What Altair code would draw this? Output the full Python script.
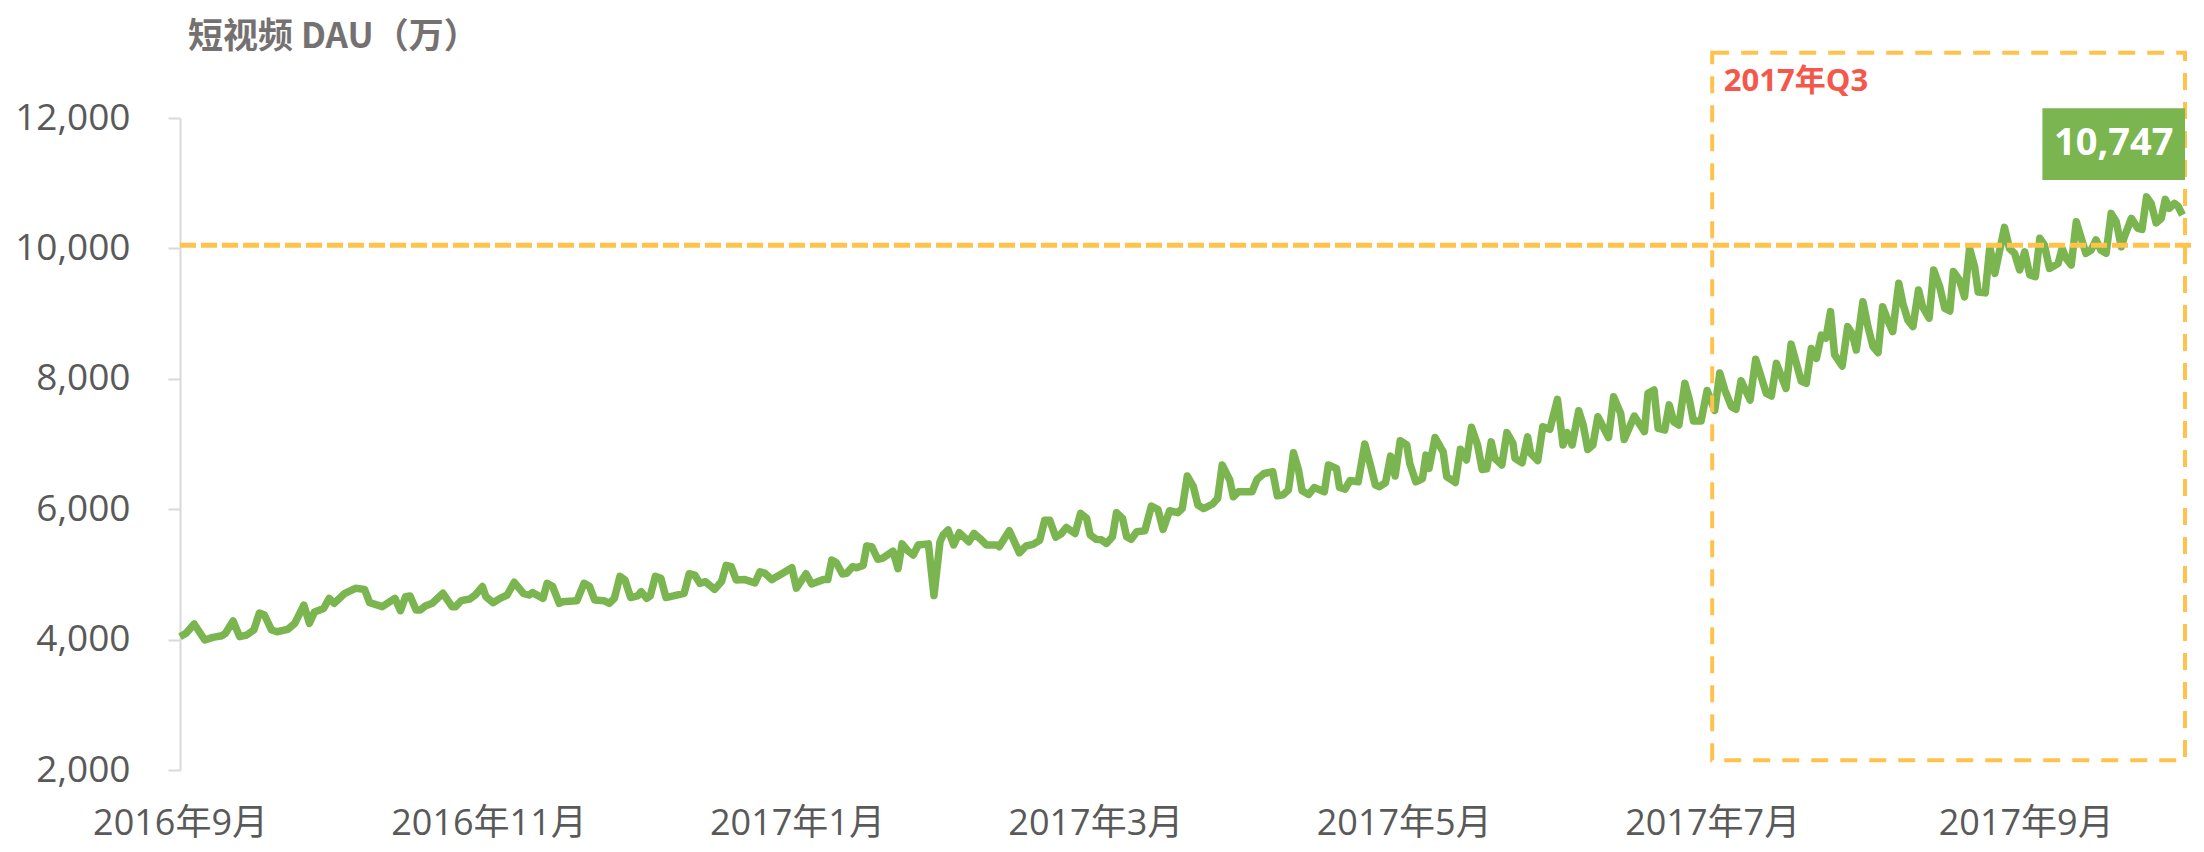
import altair as alt
import pandas as pd

START = "2016-09-01"

# x position of each reading, in days after START
day_offset = [
    0.0, 1.2, 2.8, 4.9, 6.5, 8.3, 9.0, 10.5, 11.8, 13.2, 14.6, 15.7, 16.7, 18.1, 19.2,
    21.3, 22.7, 24.5, 25.6, 26.6, 28.4, 29.5, 30.5, 32.6, 34.7, 36.5, 37.5, 40.0, 42.5,
    43.6, 44.6, 45.5, 46.7, 47.5, 48.5, 49.9, 52.0, 53.8, 54.5, 55.6, 57.3, 58.4, 59.8,
    60.5, 61.9, 63.3, 64.7, 66.1, 67.9, 69.0, 69.7, 71.8, 72.6, 73.7, 75.0, 75.7, 78.5,
    79.9, 81.0, 82.0, 83.8, 84.9, 85.9, 87.0, 88.0, 89.1, 90.5, 91.2, 92.3, 93.0, 94.0,
    95.1, 96.1, 97.6, 99.7, 100.7, 101.8, 102.8, 103.9, 105.7, 107.1, 108.0,
    109.0, 110.0, 111.7, 113.7, 114.7, 115.6, 117.0, 118.6, 121.0, 121.9, 123.8, 124.9,
    127.2, 128.1, 128.9, 129.8, 131.0, 131.8, 133.0, 133.8, 135.1, 135.8, 136.8, 138.0,
    138.9, 141.0, 142.0, 142.8, 144.0, 145.0, 146.0, 148.0, 149.1, 150.3, 150.9, 151.9,
    153.0, 154.1, 156.0, 157.0, 158.2, 159.5, 161.5, 162.0, 164.0, 166.0, 167.3, 168.7,
    170.0, 171.0, 172.0, 173.2, 174.3, 175.3, 177.0, 178.1, 179.3, 180.0, 181.2, 182.2,
    183.2, 184.4, 185.2, 186.4, 187.2, 188.1, 189.2, 190.8, 192.1, 193.4, 194.4, 195.7,
    197.3, 198.2, 199.2,
    200.4, 201.3, 202.4, 204.2, 205.2, 206.1, 207.6, 208.3, 209.3, 212.0, 213.0, 214.4,
    216.1, 217.0, 218.1, 219.2, 220.2, 221.2, 221.9, 223.2, 224.3, 226.3, 227.1, 228.7,
    229.3, 230.4, 231.4, 233.0, 234.3, 235.5, 236.4, 237.2, 238.4, 239.4, 240.3, 241.3,
    242.6, 243.2, 244.4, 245.7, 246.4, 247.0, 248.2, 249.8, 250.5, 252.2, 253.2, 254.4,
    255.4, 256.6, 257.5, 258.4, 259.3, 260.0, 261.4, 262.4, 263.6, 264.0, 265.4, 266.5,
    267.1, 268.5, 269.5, 270.9, 272.4, 273.5, 274.3, 275.3, 276.6, 277.5, 278.4, 279.4,
    280.4, 282.5, 283.5, 284.9, 285.6, 287.6, 289.6, 290.3, 291.5, 292.3, 293.6, 294.5,
    295.4, 296.4, 297.6, 298.5, 299.3, 300.8, 302.0, 303.5, 304.5,
    305.5, 306.8, 307.7, 308.7, 310.5, 311.6, 313.7, 314.7, 315.7, 317.6, 318.6, 320.6,
    321.6, 322.6, 323.6, 324.6, 325.5, 326.4, 327.2, 328.7, 329.8, 330.7, 331.5, 332.8,
    333.8, 334.8, 335.8, 336.7, 337.7, 338.7, 339.9, 340.7, 341.7, 342.7, 343.8, 344.6,
    345.9, 346.8, 348.0, 349.0, 350.0, 350.7, 351.9, 352.9, 353.9, 354.9, 355.6, 357.0,
    357.9, 358.9, 360.8, 361.8, 362.8, 363.8, 364.8, 365.8, 366.9, 367.8, 368.7, 369.7,
    371.4, 372.2, 373.0, 374.0, 375.0, 375.9, 376.9, 377.9, 378.9, 379.9, 380.9, 381.9,
    382.9, 383.9, 384.5, 385.9, 387.2, 388.0, 388.9, 389.8, 390.8, 391.8, 392.6, 393.4,
    394.4, 395.1, 396.0,
]

# 短视频 DAU (万)
dau = [
    4045, 4097, 4240, 3994, 4035, 4060, 4097, 4285, 4045, 4070, 4147, 4408, 4377, 4147, 4120,
    4157, 4250, 4530, 4250, 4425, 4477, 4633, 4556, 4710, 4787, 4770, 4566, 4505, 4633,
    4443, 4658, 4670, 4454, 4454, 4515, 4556, 4710, 4505, 4505, 4597, 4622, 4684, 4813,
    4659, 4566, 4633, 4684, 4879, 4710, 4684, 4720, 4633, 4863, 4813, 4556, 4582, 4597,
    4863, 4813, 4607, 4597, 4556, 4633, 4969, 4914, 4646, 4670, 4736, 4633, 4670, 4969,
    4940, 4646, 4670, 4710, 5010, 4990, 4863, 4888, 4770, 4890, 5138,
    5118, 4914, 4920, 4870, 5040, 5020, 4920, 4990, 5102, 4790, 5010, 4853,
    4920, 4920, 5220, 5180, 5006, 5016, 5118, 5102, 5138, 5436, 5425, 5232,
    5246, 5357, 5087, 5468, 5357, 5298, 5451, 5468, 4676, 5501, 5604, 5681,
    5451, 5640, 5500, 5630, 5550, 5451, 5451, 5425, 5670, 5330, 5436, 5460,
    5522, 5830, 5830, 5570, 5627, 5720, 5627, 5936, 5858, 5604, 5537, 5530,
    5475, 5578, 5946, 5858, 5578, 5537, 5655, 5670, 6049, 5996, 5690, 5976,
    5946, 6010, 6509,
    6345, 6064, 6010, 6080, 6164, 6678, 6448, 6190, 6267, 6267, 6458, 6548,
    6575, 6205, 6220, 6294, 6865, 6600, 6282, 6226, 6333, 6267, 6678, 6625,
    6333, 6308, 6440, 6420, 7000, 6650, 6370, 6345, 6407, 6815, 6509, 7050,
    6985, 6700, 6420, 6470, 6830, 6625, 7100, 6880, 6500, 6410, 6920, 6755,
    7256, 6985, 6610, 6620, 7033, 6780, 6678, 7174, 7010, 6780, 6713, 7110,
    6855, 6745, 7266, 7226, 7685, 6985, 7174, 6985, 7510, 7290, 6915, 6985,
    7419, 7100, 7726, 7470, 7070, 7429, 7190, 7777, 7828, 7240, 7215, 7600,
    7340, 7290, 7930, 7675, 7354, 7354, 7820, 7515, 8088,
    7828, 7572, 7532, 7971, 7675, 8300, 7777, 7736, 8237, 7853, 8532, 7965,
    7930, 8466, 8313, 8670, 8622, 9030, 8370, 8196, 8800, 8690, 8442, 9183,
    8800, 8494, 8400, 9106, 8900, 8723, 9465, 9158, 8900, 8800, 9363, 9106,
    8930, 9670, 9410, 9080, 9040, 9645, 9514, 9255, 9998, 9720, 9330, 9318,
    10024, 9617, 10322, 9998, 9924, 9670, 9948, 9593, 9566, 10155, 10050, 9693,
    9770, 9998, 9845, 9745, 10410, 10177, 9924, 9970, 10130, 9970, 9924, 10537,
    10410, 10024, 10177, 10460, 10306, 10290, 10790, 10690, 10390, 10460, 10753, 10614,
    10690, 10651, 10512,
]

y_ticks = [2000, 4000, 6000, 8000, 10000, 12000]
x_tick_dates = ["2016-09-01", "2016-11-01", "2017-01-01", "2017-03-01",
                "2017-05-01", "2017-07-01", "2017-09-01"]

title_text = "短视频 DAU（万）"
threshold = 10050
q3_label = "2017年Q3"
peak_label = "10,747"

LINE_GREEN = "#7AB54F"
ORANGE = "#FFC34D"
RED = "#F5574A"
GRAY = "#595959"
FONT = "Open Sans, 'Noto Sans CJK SC', sans-serif"
CJK_FONT = "'Noto Sans CJK SC', sans-serif"

start = pd.Timestamp(START)
df = pd.DataFrame({
    "date": start + pd.to_timedelta(day_offset, unit="D"),
    "dau": dau,
})

x_min = start
x_max = start + pd.Timedelta(days=396.5)
x_scale = alt.Scale(domain=[x_min.isoformat(), x_max.isoformat()])
y_scale = alt.Scale(domain=[2000, 12000], nice=False, zero=False)

tick_dt = [alt.DateTime(year=int(d[:4]), month=int(d[5:7]), date=int(d[8:10]))
           for d in x_tick_dates]

x_axis = alt.Axis(
    title=None, values=tick_dt, grid=False, domain=False, ticks=False,
    labelExpr="year(datum.value) + '年' + (month(datum.value) + 1) + '月'",
    labelFontSize=36, labelColor=GRAY, labelFont=FONT, labelPadding=36,
    labelOverlap=False, labelFlush=False, labelLimit=0,
)
y_axis = alt.Axis(
    title=None, values=y_ticks, grid=False,
    labelExpr="format(datum.value, ',')",
    domainColor="#D9D9D9", domainWidth=2, tickColor="#D9D9D9", tickWidth=2,
    tickSize=12, labelFontSize=37, labelColor=GRAY, labelFont=FONT,
    labelPadding=38,
)


def ax(field):
    return alt.X(field, scale=x_scale, axis=x_axis)


def ay(field):
    return alt.Y(field, scale=y_scale, axis=y_axis)


line = alt.Chart(df).mark_line(color=LINE_GREEN, strokeWidth=7.5, strokeJoin="round").encode(
    x=ax("date:T"), y=ay("dau:Q")
)

# threshold dashed line
rule_df = pd.DataFrame({
    "x": [start], "x2": [start + pd.Timedelta(days=400.5)], "y": [threshold],
})
rule = alt.Chart(rule_df).mark_rule(
    color=ORANGE, strokeWidth=5, strokeDash=[16, 5]
).encode(x=ax("x:T"), x2="x2:T", y=ay("y:Q"))

# Q3 dashed box
box_df = pd.DataFrame({
    "x": [pd.Timestamp("2017-07-01")], "x2": [x_max], "y": [2150], "y2": [13000],
})
box = alt.Chart(box_df).mark_rect(
    fillOpacity=0, stroke=ORANGE, strokeWidth=4, strokeDash=[17, 12]
).encode(x=ax("x:T"), x2="x2:T", y=ay("y:Q"), y2="y2:Q")

q3_df = pd.DataFrame({
    "x": [start + pd.Timedelta(days=305.3)], "y": [12550], "t": [q3_label],
})
q3_text = alt.Chart(q3_df).mark_text(
    align="left", baseline="middle", color=RED, fontSize=31, fontWeight="bold",
    font=FONT,
).encode(x=ax("x:T"), y=ay("y:Q"), text="t:N")

peak_box_df = pd.DataFrame({
    "x": [start + pd.Timedelta(days=368.3)], "x2": [x_max], "y": [11050], "y2": [12150],
})
peak_box = alt.Chart(peak_box_df).mark_rect(color=LINE_GREEN).encode(
    x=ax("x:T"), x2="x2:T", y=ay("y:Q"), y2="y2:Q"
)

peak_df = pd.DataFrame({
    "x": [start + pd.Timedelta(days=382.4)], "y": [11600], "t": [peak_label],
})
peak_text = alt.Chart(peak_df).mark_text(
    align="center", baseline="middle", color="white", fontSize=38, fontWeight="bold",
    font=FONT,
).encode(x=ax("x:T"), y=ay("y:Q"), text="t:N")

chart = alt.layer(line, box, rule, q3_text, peak_box, peak_text).properties(
    width=2005,
    height=652,
    title=alt.TitleParams(
        text=title_text, anchor="start", frame="group", fontSize=35,
        font=CJK_FONT, fontWeight="bold", color="#767171", offset=-4, dx=8,
    ),
    autosize=alt.AutoSizeParams(type="none"),
    padding={"left": 172, "top": 110, "right": 10, "bottom": 74},
).configure(background="white").configure_view(strokeWidth=0)

chart.save("out.html", embed_options={"renderer": "svg", "actions": False})
